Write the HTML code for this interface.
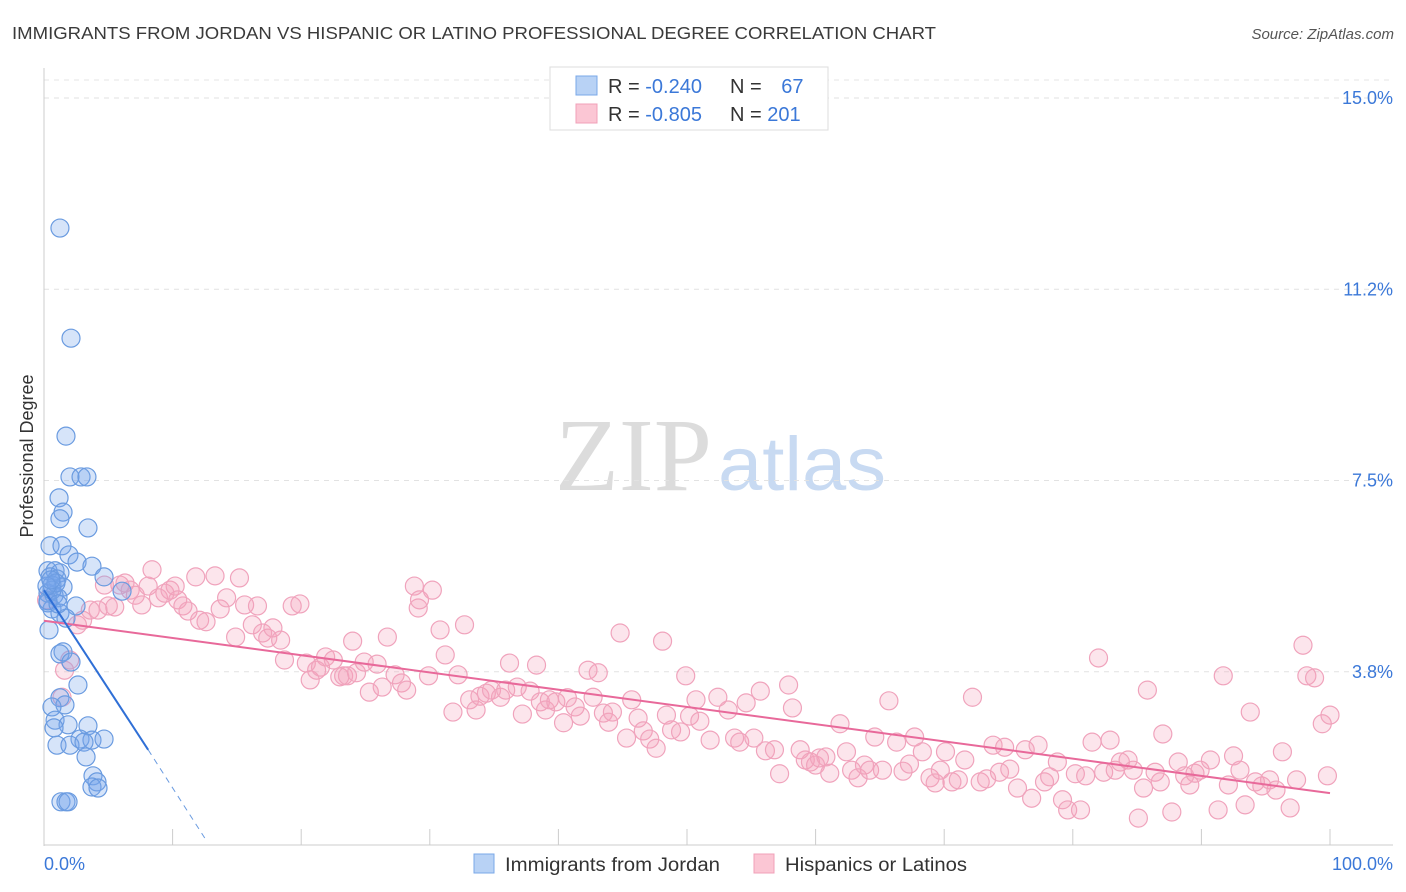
<!DOCTYPE html>
<html><head><meta charset="utf-8"><style>
body{margin:0;background:#fff;font-family:"Liberation Sans",sans-serif;}
svg{display:block}
</style></head><body>
<svg id="chart" width="1406" height="892" xmlns="http://www.w3.org/2000/svg">
<text x="12" y="39" font-size="17.5" fill="#3a3a3a" textLength="924" lengthAdjust="spacingAndGlyphs">IMMIGRANTS FROM JORDAN VS HISPANIC OR LATINO PROFESSIONAL DEGREE CORRELATION CHART</text>
<text x="1394" y="39" font-size="15" fill="#555" font-style="italic" text-anchor="end">Source: ZipAtlas.com</text>
<g>
<text x="555" y="490" font-size="104" font-family="Liberation Serif,serif" fill="#dcdcdc" textLength="157" lengthAdjust="spacingAndGlyphs">ZIP</text>
<text x="718" y="490" font-size="76" fill="#c8daf2" textLength="168" lengthAdjust="spacingAndGlyphs">atlas</text>
</g>
<g id="grid"></g>
<g id="axes"></g>
<g id="pts"></g>
<g id="trend"></g>
<text transform="translate(33,456) rotate(-90)" font-size="18" fill="#333" text-anchor="middle">Professional Degree</text>
<g>
<rect x="550" y="67" width="278" height="63" fill="#fff" stroke="#ddd"/>
<rect x="576" y="76" width="21" height="19" fill="#b8d2f5" stroke="#7aa8e8"/>
<rect x="576" y="104" width="21" height="19" fill="#fbc6d4" stroke="#f0a0b8"/>
<text x="608" y="93" font-size="20" fill="#333">R = <tspan fill="#3b78d8">-0.240</tspan></text>
<text x="730" y="93" font-size="20" fill="#333">N = <tspan fill="#3b78d8" dx="14">67</tspan></text>
<text x="608" y="121" font-size="20" fill="#333">R = <tspan fill="#3b78d8">-0.805</tspan></text>
<text x="730" y="121" font-size="20" fill="#333">N = <tspan fill="#3b78d8">201</tspan></text>
</g>
<g>
<rect x="474" y="854" width="20" height="19" fill="#b8d2f5" stroke="#7aa8e8"/>
<text x="505" y="871" font-size="19" fill="#333" textLength="215" lengthAdjust="spacingAndGlyphs">Immigrants from Jordan</text>
<rect x="754" y="854" width="20" height="19" fill="#fbc6d4" stroke="#f0a0b8"/>
<text x="785" y="871" font-size="19" fill="#333" textLength="182" lengthAdjust="spacingAndGlyphs">Hispanics or Latinos</text>
</g>
</svg>
<script>
const yTicks=[3.75,7.5,11.25,15];
const yTickLabels=["3.8%","7.5%","11.2%","15.0%"];
const xTickLabels=["0.0%","100.0%"];
const blueX=[1.24,2.10,1.71,2.02,2.88,3.34,1.17,1.48,1.24,3.42,0.47,1.40,1.94,2.57,3.73,0.31,0.86,1.24,0.47,1.01,0.62,1.48,0.31,0.78,1.09,0.31,2.49,0.62,1.24,1.71,0.39,1.48,1.24,2.10,2.64,1.24,1.63,0.62,0.86,1.87,3.42,0.78,2.80,3.73,4.67,1.01,2.02,3.11,3.27,3.81,4.12,3.73,4.20,1.32,1.71,1.87,0.31,0.62,0.93,0.23,0.54,1.09,6.07,4.67];
const blueY=[12.45,10.29,8.37,7.57,7.57,7.57,7.16,6.88,6.75,6.57,6.22,6.22,6.04,5.90,5.82,5.73,5.73,5.69,5.61,5.57,5.45,5.41,5.29,5.25,5.20,5.10,5.04,4.98,4.90,4.80,4.57,4.14,4.10,3.94,3.49,3.24,3.10,3.06,2.80,2.71,2.69,2.65,2.43,2.41,2.43,2.31,2.31,2.37,2.08,1.71,1.59,1.49,1.47,1.20,1.20,1.20,5.14,5.35,5.49,5.43,5.55,5.08,5.33,5.61];
const pinkX=[0.2,1.4,1.6,2.0,2.6,3.0,3.6,4.2,4.7,5.0,5.5,5.9,6.3,6.7,7.1,7.6,8.1,8.4,8.9,9.4,9.8,10.2,10.4,10.8,11.2,11.8,12.1,12.6,13.3,13.7,14.2,14.9,15.2,15.6,16.2,16.6,17.0,17.4,17.8,18.4,18.7,19.3,19.9,20.4,20.7,21.2,21.5,21.9,22.5,23.0,23.3,23.6,24.0,24.3,24.9,25.3,25.9,26.3,26.7,27.3,27.8,28.2,28.8,29.1,29.2,29.9,30.2,30.8,31.2,31.8,32.2,32.7,33.1,33.6,33.9,34.4,34.8,35.5,35.9,36.2,36.8,37.2,37.8,38.3,38.6,39.0,39.3,39.8,40.4,40.7,41.3,41.7,42.3,42.7,43.1,43.5,43.9,44.2,44.8,45.3,45.7,46.2,46.6,47.1,47.6,48.1,48.4,48.8,49.5,49.9,50.2,50.7,51.0,51.8,52.4,53.2,53.7,54.1,54.6,55.2,55.7,56.1,56.8,57.2,57.9,58.2,58.8,59.2,59.6,60.0,60.3,60.8,61.1,61.9,62.4,62.8,63.3,63.8,64.2,64.6,65.2,65.7,66.3,66.8,67.3,67.7,68.3,68.9,69.3,69.7,70.1,70.6,71.1,71.6,72.2,72.8,73.3,73.8,74.3,74.7,75.1,75.7,76.3,76.8,77.3,77.8,78.2,78.8,79.2,79.6,80.2,80.6,81.0,81.5,82.0,82.4,82.9,83.3,83.7,84.3,84.7,85.1,85.5,85.8,86.4,86.8,87.0,87.7,88.2,88.7,89.1,89.5,89.9,90.7,91.3,91.7,92.1,92.5,93.0,93.4,93.8,94.2,94.7,95.3,95.8,96.3,96.9,97.4,97.9,98.2,98.8,99.4,99.8,100.0];
const pinkY=[5.16,3.25,3.78,3.98,4.67,4.76,4.96,4.96,5.45,5.04,5.02,5.45,5.49,5.35,5.25,5.06,5.43,5.75,5.20,5.29,5.35,5.43,5.16,5.04,4.94,5.61,4.76,4.73,5.63,4.98,5.20,4.43,5.59,5.06,4.67,5.04,4.51,4.41,4.61,4.37,3.98,5.04,5.08,3.92,3.59,3.78,3.84,4.04,3.98,3.65,3.67,3.67,4.35,3.73,3.94,3.35,3.90,3.45,4.43,3.69,3.53,3.39,5.43,5.00,5.16,3.67,5.35,4.57,4.08,2.96,3.69,4.67,3.20,3.00,3.27,3.33,3.39,3.25,3.39,3.92,3.45,2.92,3.37,3.88,3.16,3.00,3.20,3.16,2.75,3.24,3.06,2.88,3.78,3.25,3.73,2.94,2.76,2.96,4.51,2.45,3.20,2.84,2.59,2.43,2.25,4.35,2.90,2.61,2.57,3.67,2.88,3.20,2.78,2.41,3.25,3.00,2.45,2.37,3.14,2.45,3.37,2.20,2.22,1.75,3.49,3.04,2.22,2.02,1.98,1.92,2.06,2.08,1.76,2.73,2.18,1.82,1.67,1.92,1.82,2.47,1.82,3.18,2.37,1.80,1.94,2.47,2.18,1.67,1.57,1.82,2.18,1.59,1.63,2.02,3.25,1.59,1.65,2.31,1.78,2.27,1.84,1.47,2.22,1.27,2.31,1.59,1.69,1.98,1.24,1.04,1.75,1.04,1.71,2.37,4.02,1.78,2.41,1.82,1.98,2.02,1.82,0.88,1.47,3.39,1.78,1.59,2.53,1.00,1.98,1.71,1.53,1.76,1.82,2.02,1.04,3.67,1.53,2.10,1.82,1.14,2.96,1.59,1.51,1.63,1.43,2.18,1.08,1.63,4.27,3.67,3.63,2.73,1.71,2.90];
const blueTrendX=[0,8.1,12.5];
const blueTrendY=[5.35,2.22,0.49];
const pinkTrendX=[0,100];
const pinkTrendY=[4.75,1.37];

const NS="http://www.w3.org/2000/svg";
const X0=44,X1=1330,YB=863,YS=51;
function sx(v){return X0+(X1-X0)*v/100;}
function sy(v){return YB-v*YS;}
function mk(tag,attrs,parent){const e=document.createElementNS(NS,tag);for(const k in attrs)e.setAttribute(k,attrs[k]);parent.appendChild(e);return e;}
const grid=document.getElementById('grid'),axes=document.getElementById('axes'),pts=document.getElementById('pts'),tr=document.getElementById('trend');
mk('line',{x1:44,y1:80,x2:1393,y2:80,stroke:'#e6e6e6','stroke-dasharray':'5,5'},grid);
yTicks.forEach((t,i)=>{
  const g=mk('line',{x1:44,y1:sy(t),x2:1393,y2:sy(t),stroke:'#e2e2e2','stroke-dasharray':'5,5'},grid);
  
  
  const l=mk('text',{x:1393,y:sy(t)+6,'font-size':18,fill:'#3b78d8','text-anchor':'end'},axes);
  l.textContent=yTickLabels[i];
  
  
});
const ya=mk('line',{x1:44,y1:68,x2:44,y2:846,stroke:'#ccc'},axes);


const xa=mk('line',{x1:44,y1:845,x2:1393,y2:845,stroke:'#ccc'},axes);


for(let i=0;i<=10;i++){const t=mk('line',{x1:sx(i*10),y1:829,x2:sx(i*10),y2:845,stroke:'#ccc'},axes);
  
  }
[0,100].forEach((v,i)=>{const l=mk('text',{x:i?1393:44,y:870,'font-size':18,fill:'#3b78d8','text-anchor':i?'end':'start'},axes);
  l.textContent=xTickLabels[i];
  
  });
pinkX.forEach((x,i)=>{const c=mk('circle',{cx:sx(x),cy:sy(pinkY[i]),r:9,fill:'rgba(246,160,188,0.28)',stroke:'#f0a3bc','stroke-width':1.2},pts);
  
  });
blueX.forEach((x,i)=>{const c=mk('circle',{cx:sx(x),cy:sy(blueY[i]),r:9,fill:'rgba(120,165,235,0.3)',stroke:'#6a9be0','stroke-width':1.2},pts);
  
  });
const pl=mk('line',{x1:sx(pinkTrendX[0]),y1:sy(pinkTrendY[0]),x2:sx(pinkTrendX[1]),y2:sy(pinkTrendY[1]),stroke:'#e8699a','stroke-width':2},tr);


const bl=mk('line',{x1:sx(blueTrendX[0]),y1:sy(blueTrendY[0]),x2:sx(blueTrendX[1]),y2:sy(blueTrendY[1]),stroke:'#2f6fd6','stroke-width':2},tr);


const bd=mk('line',{x1:sx(blueTrendX[1]),y1:sy(blueTrendY[1]),x2:sx(blueTrendX[2]),y2:sy(blueTrendY[2]),stroke:'#6a9be0','stroke-width':1,'stroke-dasharray':'6,5'},tr);


</script>
</body></html>
